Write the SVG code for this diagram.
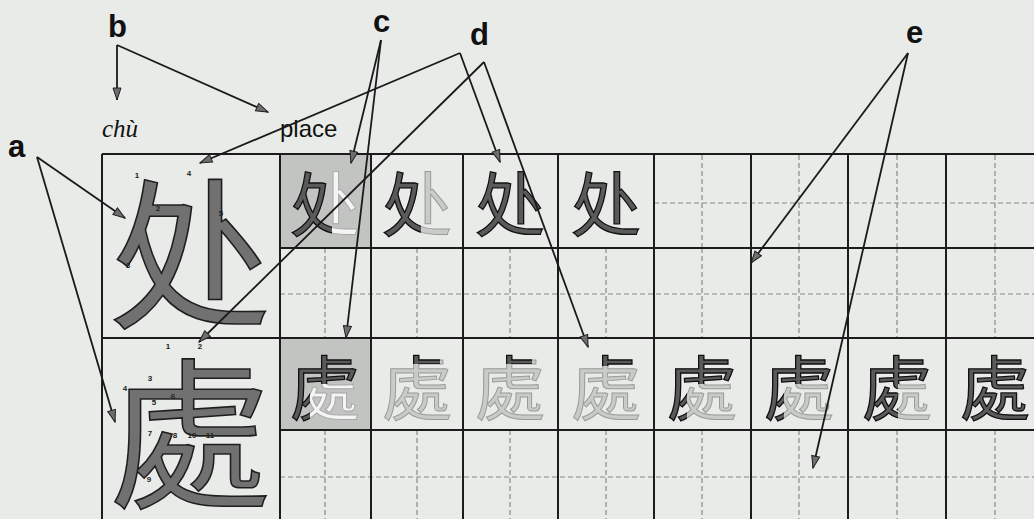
<svg xmlns="http://www.w3.org/2000/svg" width="1034" height="519" viewBox="0 0 1034 519">
<style>
.lbl{font-family:"Liberation Sans",Arial,sans-serif;font-weight:bold;font-size:31px;fill:#111}
.grid{stroke:#1c1c1c;stroke-width:2;fill:none}
.guide{stroke:#8a8c8a;stroke-width:1.2;stroke-dasharray:5 3;fill:none}
.conn{stroke:#1a1a1a;stroke-width:1.8;fill:none;marker-end:url(#ah)}
.big{font-family:"Noto Sans CJK TC","Noto Sans CJK SC",sans-serif;fill:#707170;stroke:#1e1e1e;stroke-width:1.6;text-anchor:middle;dominant-baseline:central}
.sm{font-family:"Noto Sans CJK TC","Noto Sans CJK SC",sans-serif;font-size:70px;text-anchor:middle;dominant-baseline:central}
.dk{fill:#5a5a5a;stroke:#111;stroke-width:1.3}
.gr{fill:#c9cbc9;stroke:#9a9c9a;stroke-width:1}
.wh{fill:#f4f5f4;stroke:#a8aaa8;stroke-width:1}
.num{font-family:"Liberation Sans",Arial,sans-serif;font-weight:bold;font-size:8px;fill:#222;text-anchor:middle}
</style>
<defs>
<marker id="ah" markerUnits="userSpaceOnUse" markerWidth="14" markerHeight="10" refX="13" refY="5" orient="auto">
<path d="M1,1 L13,5 L1,9 z" fill="#6e6e6e" stroke="#222" stroke-width="1"/>
</marker>
<clipPath id="r1c1"><rect x="280" y="155" width="52" height="93"/></clipPath>
<clipPath id="r1c2"><rect x="371" y="155" width="50" height="93"/></clipPath>
<clipPath id="r3c1"><rect x="280" y="338" width="93" height="46"/><rect x="280" y="338" width="30" height="92"/></clipPath>
<clipPath id="r3c2"><rect x="380" y="338" width="60" height="26"/></clipPath>
<clipPath id="r3c3"><rect x="472" y="338" width="60" height="26"/></clipPath>
<clipPath id="r3c4"><rect x="567" y="338" width="75" height="28"/></clipPath>
<clipPath id="r3c5"><rect x="654" y="338" width="97" height="46"/><rect x="654" y="338" width="33" height="92"/></clipPath>
<clipPath id="r3c6"><rect x="751" y="338" width="97" height="46"/><rect x="751" y="338" width="33" height="92"/></clipPath>
<clipPath id="r3c7"><rect x="848" y="338" width="98" height="46"/><rect x="848" y="338" width="50" height="92"/></clipPath>
</defs>
<rect width="1034" height="519" fill="#e8ebe8"/>

<g id="grid">
<rect x="280" y="155" width="91" height="93" fill="#c2c4c1"/>
<rect x="280" y="338" width="91" height="92" fill="#c2c4c1"/>
<path class="guide" d="M654 203H1034M280 294H1034M280 477H1034M702 155V248M799 155V248M897 155V248M995 155V248M325 248V338M417 248V338M510 248V338M606 248V338M702 248V338M799 248V338M897 248V338M995 248V338M325 430V519M417 430V519M510 430V519M606 430V519M702 430V519M799 430V519M897 430V519M995 430V519"/>
<path class="grid" d="M102 154H1034M280 248H1034M102 338H1034M280 430H1034M102 154V519M280 154V519M371 154V519M463 154V519M558 154V519M654 154V519M751 154V519M848 154V519M946 154V519"/>
</g>

<g id="big-chu1">
<text class="big" x="190" y="245" font-size="162">处</text>
<text class="num" x="137" y="178">1</text>
<text class="num" x="158" y="211">2</text>
<text class="num" x="128" y="268">3</text>
<text class="num" x="189" y="176">4</text>
<text class="num" x="221" y="216">5</text>
</g>
<g id="big-chu2">
<text class="big" x="190" y="425" font-size="162">處</text>
<text class="num" x="168" y="349">1</text>
<text class="num" x="200" y="349">2</text>
<text class="num" x="150" y="381">3</text>
<text class="num" x="125" y="391">4</text>
<text class="num" x="154" y="405">5</text>
<text class="num" x="173" y="399">6</text>
<text class="num" x="150" y="436">7</text>
<text class="num" x="175" y="438">8</text>
<text class="num" x="192" y="438">10</text>
<text class="num" x="210" y="438">11</text>
<text class="num" x="149" y="482">9</text>
</g>

<g id="row1">
<text class="sm wh" x="325" y="200">处</text>
<text class="sm dk" x="325" y="200" clip-path="url(#r1c1)">处</text>
<text class="sm gr" x="417" y="200">处</text>
<text class="sm dk" x="417" y="200" clip-path="url(#r1c2)">处</text>
<text class="sm dk" x="510" y="200">处</text>
<text class="sm dk" x="606" y="200">处</text>
</g>

<g id="row3">
<text class="sm wh" x="325" y="384">處</text>
<text class="sm dk" x="325" y="384" clip-path="url(#r3c1)">處</text>
<text class="sm gr" x="417" y="384">處</text>
<text class="sm dk" x="417" y="384" clip-path="url(#r3c2)">處</text>
<text class="sm gr" x="510" y="384">處</text>
<text class="sm dk" x="510" y="384" clip-path="url(#r3c3)">處</text>
<text class="sm gr" x="606" y="384">處</text>
<text class="sm dk" x="606" y="384" clip-path="url(#r3c4)">處</text>
<text class="sm gr" x="702" y="384">處</text>
<text class="sm dk" x="702" y="384" clip-path="url(#r3c5)">處</text>
<text class="sm gr" x="799" y="384">處</text>
<text class="sm dk" x="799" y="384" clip-path="url(#r3c6)">處</text>
<text class="sm gr" x="897" y="384">處</text>
<text class="sm dk" x="897" y="384" clip-path="url(#r3c7)">處</text>
<text class="sm dk" x="995" y="384">處</text>
</g>

<g id="labels">
<text class="lbl" x="8" y="157">a</text>
<text class="lbl" x="108" y="37">b</text>
<text class="lbl" x="373" y="32">c</text>
<text class="lbl" x="470" y="45">d</text>
<text class="lbl" x="906" y="43">e</text>
<text x="102" y="137" font-family="'Liberation Serif','Times New Roman',serif" font-style="italic" font-size="25" fill="#111">chù</text>
<text x="280" y="137" font-family="'Liberation Sans',Arial,sans-serif" font-size="24" fill="#111">place</text>
</g>

<g id="connectors">
<line class="conn" x1="117" y1="45" x2="117" y2="100"/>
<line class="conn" x1="117" y1="45" x2="268" y2="112"/>
<line class="conn" x1="37" y1="157" x2="125" y2="218"/>
<line class="conn" x1="37" y1="157" x2="115" y2="422"/>
<line class="conn" x1="381" y1="40" x2="351" y2="163"/>
<line class="conn" x1="381" y1="40" x2="346" y2="338"/>
<line class="conn" x1="460" y1="53" x2="500" y2="162"/>
<line class="conn" x1="460" y1="53" x2="200" y2="163"/>
<line class="conn" x1="484" y1="62" x2="588" y2="347"/>
<line class="conn" x1="484" y1="62" x2="199" y2="342"/>
<line class="conn" x1="908" y1="53" x2="751" y2="263"/>
<line class="conn" x1="908" y1="53" x2="813" y2="468"/>
</g>
</svg>
